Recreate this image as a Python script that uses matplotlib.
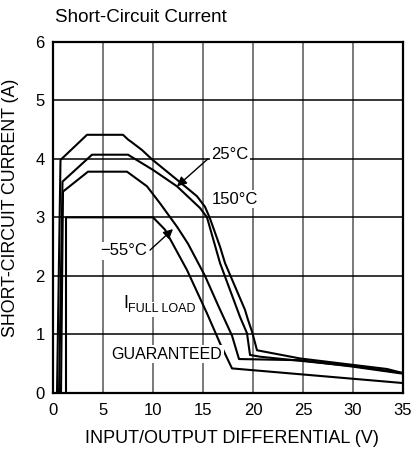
import matplotlib
matplotlib.use("Agg")
import matplotlib.pyplot as plt

plt.rcParams['font.family'] = ['Liberation Sans', 'DejaVu Sans']

# --- data ---
x_25 = [0.4, 0.75, 3.4, 7.0, 7.5, 7.9, 8.9, 9.9, 12.2, 13.2, 14.4, 15.2, 15.7, 16.7, 17.2, 18.2, 19.2, 19.5, 19.9, 20.4, 24.7, 30.0, 33.4, 35.0]
y_25 = [0.0, 3.98, 4.41, 4.41, 4.33, 4.28, 4.15, 3.99, 3.67, 3.53, 3.36, 3.18, 2.98, 2.5, 2.22, 1.82, 1.42, 1.25, 1.05, 0.73, 0.59, 0.48, 0.41, 0.34]

x_150 = [0.6, 0.95, 3.9, 7.5, 10.0, 12.4, 14.7, 15.4, 16.7, 17.7, 18.7, 19.4, 19.7, 20.7, 24.7, 30.0, 35.0]
y_150 = [0.0, 3.61, 4.07, 4.07, 3.81, 3.53, 3.16, 3.0, 2.22, 1.76, 1.30, 1.02, 0.65, 0.62, 0.55, 0.46, 0.34]

x_m55 = [0.8, 1.0, 3.5, 7.4, 9.4, 10.7, 12.4, 13.5, 15.2, 16.5, 17.9, 18.6, 24.7, 30.0, 35.0]
y_m55 = [0.0, 3.44, 3.78, 3.78, 3.53, 3.24, 2.84, 2.55, 2.0, 1.5, 0.98, 0.58, 0.56, 0.45, 0.33]

x_guar = [1.3, 1.3, 10.0, 11.2, 13.4, 15.4, 16.7, 17.9, 35.0]
y_guar = [0.0, 3.0, 3.0, 2.79, 2.10, 1.36, 0.85, 0.42, 0.17]

x_ticks = [0, 5, 10, 15, 20, 25, 30, 35]
y_ticks = [0, 1, 2, 3, 4, 5, 6]

fig = plt.figure(figsize=(4.17, 4.55), dpi=100)
ax = fig.add_axes([53/417, 1-393/455, 350/417, (393-41.7)/455])

ax.set_xlim(0, 35)
ax.set_ylim(0, 6)
ax.set_xticks(x_ticks)
ax.set_yticks(y_ticks)
ax.tick_params(length=0, labelsize=12, pad=6)
ax.tick_params(axis='x', pad=7)

for xv in x_ticks[1:-1]:
    ax.axvline(xv, color='#555555', lw=1.1, zorder=1)
for yv in y_ticks[1:-1]:
    ax.axhline(yv, color='black', lw=1.1, zorder=1)

for s in ax.spines.values():
    s.set_linewidth(1.6)

lw = 1.5
ax.plot(x_25, y_25, color='black', lw=lw, zorder=3)
ax.plot(x_150, y_150, color='black', lw=lw, zorder=3)
ax.plot(x_m55, y_m55, color='black', lw=lw, zorder=3)
ax.plot(x_guar, y_guar, color='black', lw=lw, zorder=3)

bb = dict(facecolor='white', edgecolor='none', pad=1)
ax.text(15.8, 4.07, "25°C", fontsize=12, va='center', ha='left', bbox=bb, zorder=4)
ax.annotate("", xy=(12.4, 3.53), xytext=(15.5, 4.0),
            arrowprops=dict(arrowstyle='-|>', color='black', lw=1.0,
                            mutation_scale=14, shrinkA=0, shrinkB=0), zorder=5)
ax.text(15.9, 3.31, "150°C", fontsize=12, va='center', ha='left', bbox=bb, zorder=4)
ax.text(4.7, 2.43, "−55°C", fontsize=12, va='center', ha='left', bbox=bb, zorder=4)
ax.annotate("", xy=(12.0, 2.80), xytext=(9.7, 2.44),
            arrowprops=dict(arrowstyle='-|>', color='black', lw=1.0,
                            mutation_scale=14, shrinkA=0, shrinkB=0), zorder=5)
ax.text(7.45, 1.43, "FULL LOAD", fontsize=9, va='center', ha='left', bbox=bb, zorder=4)
ax.text(7.05, 1.53, "I", fontsize=13, va='center', ha='left', zorder=6)
ax.text(11.4, 0.66, "GUARANTEED", fontsize=11.5, va='center', ha='center', bbox=bb, zorder=4)

ax.set_xlabel("INPUT/OUTPUT DIFFERENTIAL (V)", fontsize=13)
ax.set_ylabel("SHORT-CIRCUIT CURRENT (A)", fontsize=12.8)
ax.xaxis.set_label_coords(0.51, -0.105)
ax.yaxis.set_label_coords(-0.097, 0.527)

fig.text(55/417, 1-17/455, "Short-Circuit Current", fontsize=13.5, ha='left', va='center')

fig.savefig("out.png", dpi=100)
